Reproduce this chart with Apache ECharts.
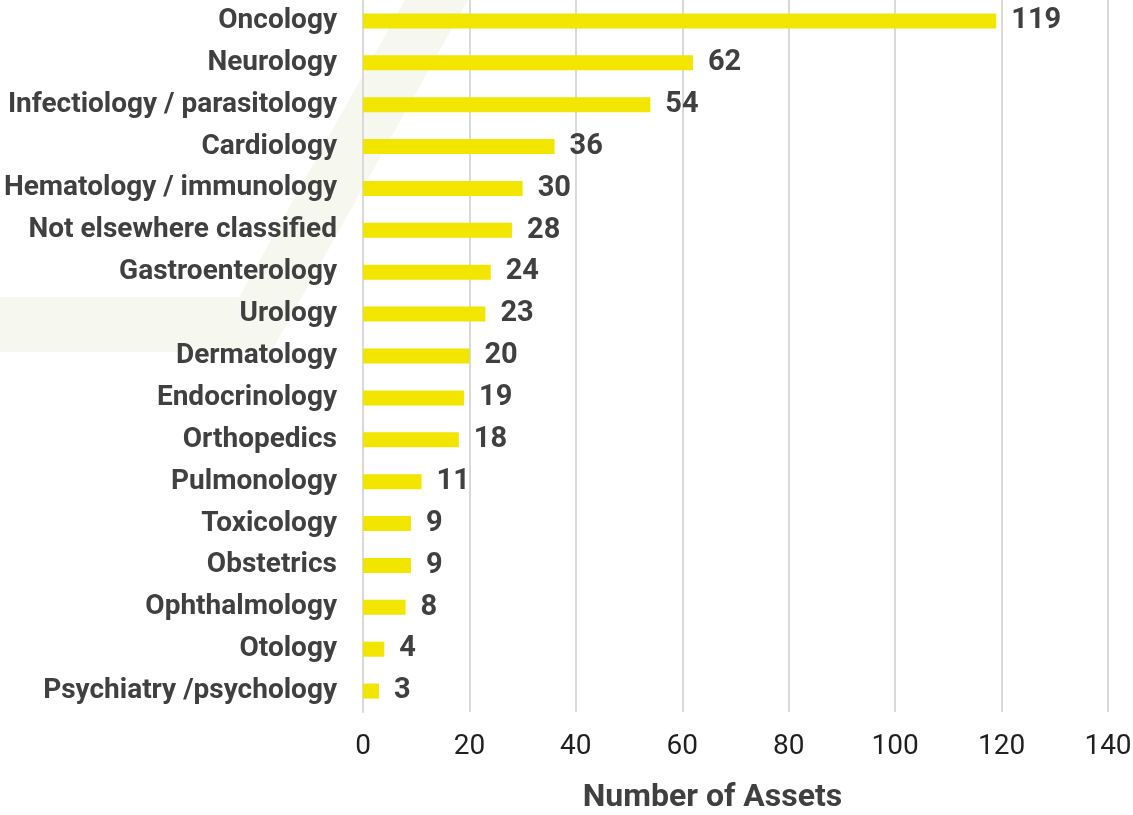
<!DOCTYPE html>
<html>
<head>
<meta charset="utf-8">
<script src="https://cdn.jsdelivr.net/npm/echarts@6/dist/echarts.min.js"></script>
<style>
  html, body { margin: 0; padding: 0; background: #fff; }
  #chart { width: 1133px; height: 815px; }
</style>
</head>
<body>
<div id="chart"></div>
<script>
// data, top to bottom
const categories = [
  "Oncology", "Neurology", "Infectiology / parasitology", "Cardiology",
  "Hematology / immunology", "Not elsewhere classified", "Gastroenterology",
  "Urology", "Dermatology", "Endocrinology", "Orthopedics", "Pulmonology",
  "Toxicology", "Obstetrics", "Ophthalmology", "Otology", "Psychiatry /psychology"
]
const assets = [119, 62, 54, 36, 30, 28, 24, 23, 20, 19, 18, 11, 9, 9, 8, 4, 3]
const xTicks = [0, 20, 40, 60, 80, 100, 120, 140]

const ins = echarts.init(document.getElementById("chart"))
ins.setOption({
  animation: false,
  // faint watermark shape behind the labels
  graphic: [{
    type: "polygon",
    z: -10,
    shape: {
      points: [[405, 0], [468, 0], [271, 352], [0, 352], [0, 297], [239, 297]]
    },
    style: { fill: "#f6f7ef" }
  }],
  grid: {
    left: 363,
    right: 25,
    top: 0,
    bottom: 103,
    outerBoundsMode: "none"
  },
  xAxis: {
    type: "value",
    min: xTicks[0],
    max: xTicks[xTicks.length - 1],
    interval: 20,
    name: "Number of Assets",
    nameLocation: "middle",
    nameGap: 70,
    nameTextStyle: {
      fontFamily: "Roboto",
      fontWeight: "bold",
      fontSize: 32,
      color: "#404040",
      padding: [0, 46, 0, 0]
    },
    axisLine: { show: false },
    axisTick: { show: false },
    axisLabel: {
      fontFamily: "Roboto",
      fontSize: 28,
      color: "#1f1f1f",
      margin: 21
    },
    splitLine: {
      lineStyle: { color: "#d9d9d9", width: 2 }
    }
  },
  yAxis: {
    type: "category",
    inverse: true,
    data: categories,
    axisLine: { show: true, lineStyle: { color: "#d9d9d9", width: 2 } },
    axisTick: { show: false },
    axisLabel: {
      fontFamily: "Roboto",
      fontWeight: "bold",
      fontSize: 28,
      color: "#404040",
      margin: 26
    }
  },
  series: [{
    type: "bar",
    data: assets,
    barWidth: 15,
    itemStyle: { color: "#f2e500" },
    label: {
      show: true,
      position: "right",
      distance: 15,
      fontFamily: "Roboto",
      fontWeight: "bold",
      fontSize: 29,
      color: "#404040"
    }
  }]
})
</script>
</body>
</html>
